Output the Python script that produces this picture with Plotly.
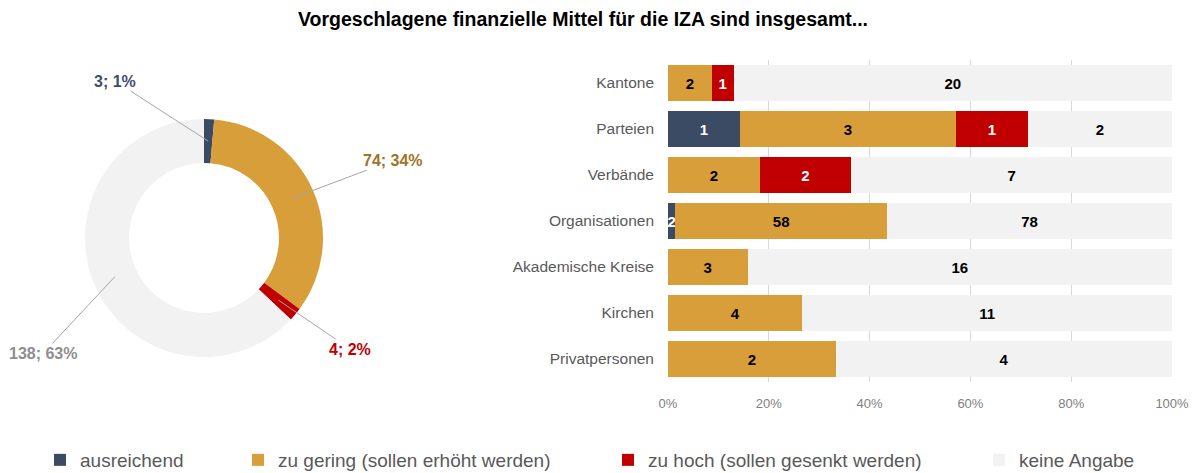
import math
import plotly.graph_objects as go

W, H = 1194, 473
OX, OY = 0, 0  # body margin removed below, figure starts at window corner

# ---------------- data ----------------
categories = ["Kantone", "Parteien", "Verbände", "Organisationen",
              "Akademische Kreise", "Kirchen", "Privatpersonen"]
series_names = ["ausreichend", "zu gering (sollen erhöht werden)",
                "zu hoch (sollen gesenkt werden)", "keine Angabe"]
ausreichend = [0, 1, 0, 2, 0, 0, 0]
zu_gering = [2, 3, 2, 58, 3, 4, 2]
zu_hoch = [1, 1, 2, 0, 0, 0, 0]
keine_angabe = [20, 2, 7, 78, 16, 11, 4]
x_tick_vals = [0, 0.2, 0.4, 0.6, 0.8, 1.0]
title_text = "Vorgeschlagene finanzielle Mittel für die IZA sind insgesamt..."

# ---------------- styles ----------------
colors = ["#3B4B64", "#D89E3A", "#C00000", "#F2F2F2"]
label_colors = ["#3E4E68", "#A0722A", "#C00000", "#8E8E8E"]
text_colors = ["white", "black", "white", "black"]


def fx(px):  # screen x pixel -> paper fraction
    return (px - OX) / W


def fy(py):  # screen y pixel -> paper fraction
    return 1 - (py - OY) / H


series = [ausreichend, zu_gering, zu_hoch, keine_angabe]
totals = [sum(v) for v in zip(*series)]

fig = go.Figure()

# ---------------- stacked 100% bars ----------------
legend_ids = ["legend", "legend2", "legend3", "legend4"]
for i, (name, vals) in enumerate(zip(series_names, series)):
    fig.add_trace(go.Bar(
        y=categories,
        x=[v / t for v, t in zip(vals, totals)],
        orientation="h",
        name=name,
        marker=dict(color=colors[i], line=dict(width=0)),
        text=[str(v) if v > 0 else "" for v in vals],
        textposition="inside",
        insidetextanchor="middle",
        textangle=0,
        constraintext="none",
        textfont=dict(family="Liberation Sans, Arial", size=15,
                      color=text_colors[i], weight="bold"),
        hoverinfo="skip",
        legend=legend_ids[i],
    ))

# ---------------- donut ----------------
pie_vals = [sum(v) for v in series]
pie_total = sum(pie_vals)
pie_x = [fx(85), fx(323)]
pie_y = [fy(357), fy(119)]
hole = 0.63
fig.add_trace(go.Pie(
    values=pie_vals,
    labels=series_names,
    marker=dict(colors=colors, line=dict(width=0)),
    hole=hole,
    sort=False,
    direction="clockwise",
    rotation=0,
    textinfo="none",
    hoverinfo="skip",
    showlegend=False,
    domain=dict(x=pie_x, y=pie_y),
))

# donut labels with leader lines
cx = (pie_x[0] + pie_x[1]) / 2 * W
cy = (1 - (pie_y[0] + pie_y[1]) / 2) * H
R = min(pie_x[1] - pie_x[0], (pie_y[1] - pie_y[0]) * H / W) * W / 2
r_mid = R * (1 + hole) / 2
label_offsets = [(-93, -60), (101, -38), (72, 49), (-72, 77)]
cum = 0
for i, v in enumerate(pie_vals):
    mid = (cum + v / 2) / pie_total
    cum += v
    ang = 2 * math.pi * mid
    px = cx + r_mid * math.sin(ang)
    py = cy - r_mid * math.cos(ang)
    fig.add_annotation(
        x=px / W, y=1 - py / H, xref="paper", yref="paper",
        text=f"<b>{v}; {round(v / pie_total * 100)}%</b>",
        showarrow=True, arrowhead=0, arrowwidth=1, arrowcolor="#A6A6A6",
        ax=label_offsets[i][0], ay=label_offsets[i][1], standoff=0,
        font=dict(family="Liberation Sans, Arial", size=16, color=label_colors[i]),
    )

# ---------------- layout ----------------
legend_text_x = [80, 278, 648, 1019]
legend_common = dict(orientation="h", yanchor="middle", y=fy(460),
                     xanchor="left", bgcolor="rgba(0,0,0,0)",
                     font=dict(family="Liberation Sans, Arial", size=19, color="#595959"),
                     itemwidth=30, itemclick=False, itemdoubleclick=False)
legends = {}
for i, lid in enumerate(legend_ids):
    legends[lid] = dict(legend_common, x=fx(legend_text_x[i] - 40))

fig.update_layout(
    width=W, height=H,
    margin=dict(l=0, r=0, t=0, b=0, autoexpand=False),
    paper_bgcolor="white", plot_bgcolor="white",
    barmode="stack",
    bargap=0.2,
    title=dict(text=f"<b>{title_text}</b>", x=fx(583), xanchor="center",
               y=fy(19), yanchor="middle",
               font=dict(family="Liberation Sans, Arial", size=19.5, color="black")),
    xaxis=dict(domain=[fx(668), fx(1172)], range=[0, 1],
               tickvals=x_tick_vals, tickformat=".0%",
               showgrid=True, gridcolor="#D9D9D9", gridwidth=1,
               zeroline=False, showline=False, ticks="",
               tickfont=dict(family="Liberation Sans, Arial", size=13, color="#808080"),
               ticklabelstandoff=12, fixedrange=True),
    yaxis=dict(domain=[fy(382), fy(60)], autorange="reversed",
               showgrid=False, zeroline=False, showline=False, ticks="",
               tickfont=dict(family="Liberation Sans, Arial", size=15.5, color="#595959"),
               ticklabelstandoff=13, fixedrange=True),
    **legends,
)

fig.write_html("out.html",
               config={"displayModeBar": False},
               post_script="document.body.style.margin='0';document.body.style.overflow='hidden';")
